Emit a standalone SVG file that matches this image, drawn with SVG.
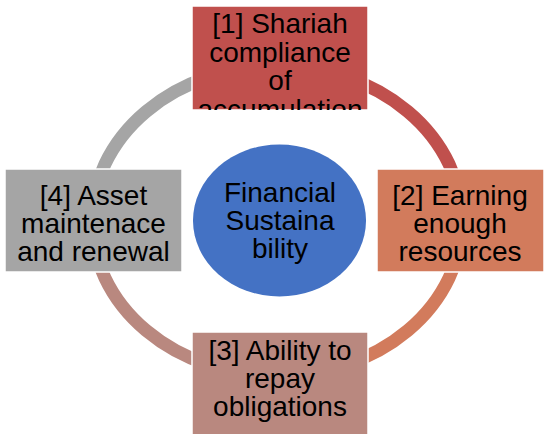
<svg xmlns="http://www.w3.org/2000/svg" width="545" height="434" viewBox="0 0 545 434">
  <style>
    .lbl { font-family: "Liberation Sans", Arial, sans-serif; font-size: 28px; fill: #000; text-anchor: middle; }
    .arc { fill: none; stroke-width: 13; }
    .box { stroke: #fff; stroke-width: 1.5; }
  </style>
  <defs>
    <clipPath id="clip1"><rect x="192" y="6" width="176" height="104"/></clipPath>
  </defs>
  <rect width="545" height="434" fill="#fff"/>

  <!-- cycle ring, one segment per step -->
  <g id="connectors">
    <path class="arc" stroke="#C0504D" d="M277,66 A185,155 0 0 1 462,221"/>
    <path class="arc" stroke="#D27B5C" d="M462,221 A185,155 0 0 1 277,376"/>
    <path class="arc" stroke="#B9887F" d="M277,376 A185,155 0 0 1 92,221"/>
    <path class="arc" stroke="#A5A5A5" d="M92,221 A185,155 0 0 1 277,66"/>
  </g>

  <g id="center">
    <ellipse cx="279.5" cy="220.5" rx="86.5" ry="76" fill="#4472C4"/>
    <text class="lbl" x="280" y="202">Financial</text>
    <text class="lbl" x="280" y="230">Sustaina</text>
    <text class="lbl" x="280" y="258">bility</text>
  </g>

  <g id="step1">
    <rect class="box" x="192" y="6" width="176" height="104" fill="#C0504D"/>
    <g clip-path="url(#clip1)">
      <text class="lbl" x="280" y="33">[1] Shariah</text>
      <text class="lbl" x="280" y="61.5">compliance</text>
      <text class="lbl" x="280" y="90">of</text>
      <text class="lbl" x="280" y="118.5">accumulation</text>
    </g>
  </g>

  <g id="step2">
    <rect class="box" x="377" y="169" width="167" height="103" fill="#D27B5C"/>
    <text class="lbl" x="460" y="205">[2] Earning</text>
    <text class="lbl" x="460" y="233">enough</text>
    <text class="lbl" x="460" y="261">resources</text>
  </g>

  <g id="step3">
    <rect class="box" x="192" y="332" width="176" height="104" fill="#B9887F"/>
    <text class="lbl" x="280" y="360">[3] Ability to</text>
    <text class="lbl" x="280" y="388">repay</text>
    <text class="lbl" x="280" y="416">obligations</text>
  </g>

  <g id="step4">
    <rect class="box" x="5" y="169" width="177" height="103" fill="#A5A5A5"/>
    <text class="lbl" x="93.5" y="205">[4] Asset</text>
    <text class="lbl" x="93.5" y="233">maintenace</text>
    <text class="lbl" x="93.5" y="261">and renewal</text>
  </g>
</svg>
